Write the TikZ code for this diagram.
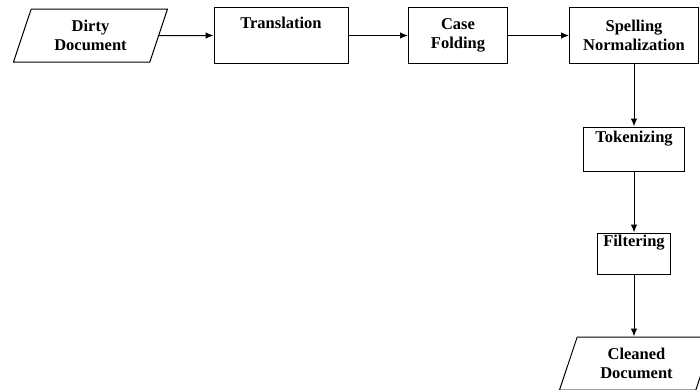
\documentclass[tikz,border=0pt]{standalone}
\usepackage{fontspec}
\setmainfont{Liberation Serif}
\usetikzlibrary{shapes.geometric,arrows.meta}

\tikzset{
  procbox/.style={draw, line width=1pt, rectangle, align=center, inner sep=0pt},
  iobox/.style={draw, line width=1pt, trapezium, trapezium left angle=60,
    trapezium right angle=120, trapezium stretches body, align=center,
    inner sep=0pt, minimum width=154, minimum height=53},
  flow/.style={-{Latex[length=8pt,width=6.5pt]}, line width=1pt}
}

\begin{document}
\begin{tikzpicture}[x=1pt, y=-1pt, font=\bfseries\fontsize{16.5}{19}\selectfont]
      \useasboundingbox (0,0) rectangle (700,389);
      \clip (0,0) rectangle (700,389);
      \draw
        (90.5,35.5) node[iobox] (0){Dirty\\Document}
        (281,35.5) node[procbox, minimum width=134, minimum height=56] (1){Translation\\\strut}
        (458,35.5) node[procbox, minimum width=99, minimum height=56] (2){Case\\Folding}
        (634,35.5) node[procbox, minimum width=129, minimum height=56] (3){Spelling\\Normalization}
        (634,149) node[procbox, minimum width=101, minimum height=44] (4){Tokenizing\\\strut}
        (634,253.5) node[procbox, minimum width=73, minimum height=41] (5){Filtering\\\strut}
        (636.5,363.5) node[iobox] (6){Cleaned\\Document};
      \begin{scope}[flow]
        \draw (0) to (1);
        \draw (1) to (2);
        \draw (2) to (3);
        \draw (3) to (4);
        \draw (4) to (5);
        \draw (5) to (5 |- 6.north);
      \end{scope}
    \end{tikzpicture}
\end{document}
